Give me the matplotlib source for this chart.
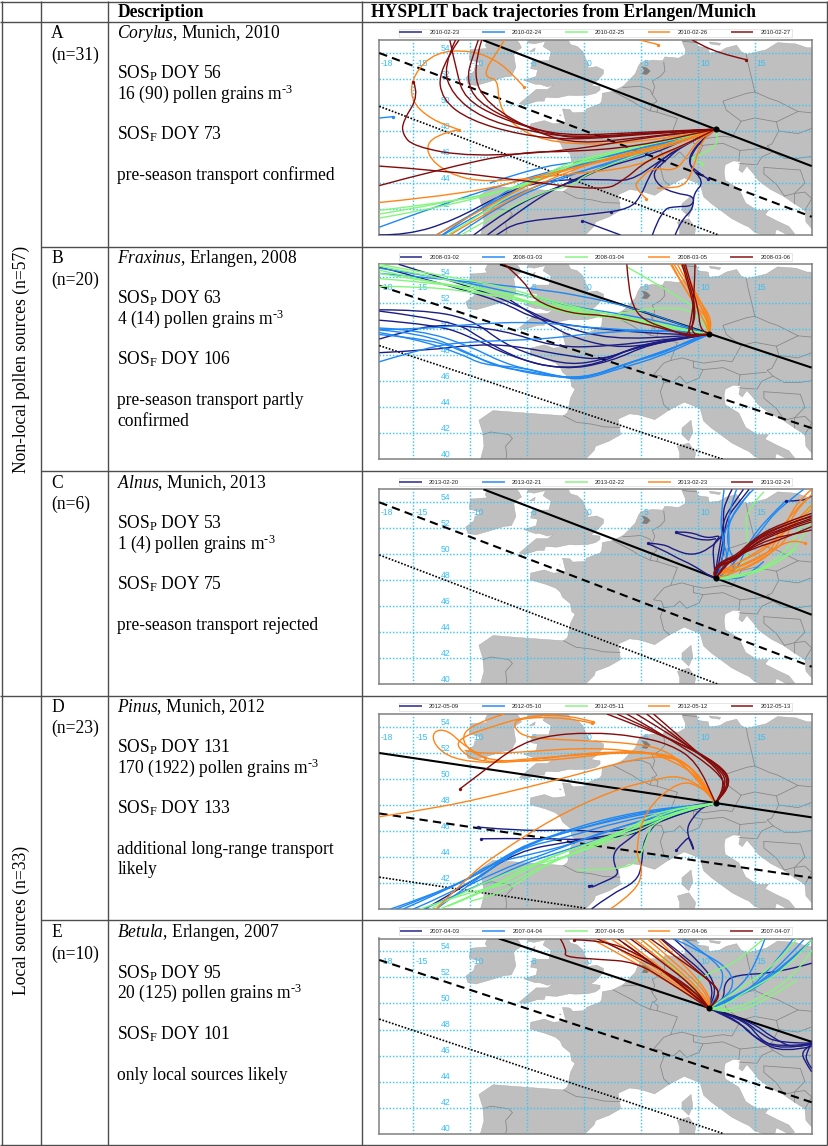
import matplotlib
matplotlib.use("Agg")
import matplotlib.pyplot as plt
from matplotlib.path import Path
from matplotlib.patches import PathPatch, Polygon
from matplotlib.lines import Line2D

plt.rcParams['font.family'] = ['Liberation Serif', 'DejaVu Serif']
plt.rcParams['mathtext.fontset'] = 'custom'
plt.rcParams['mathtext.rm'] = 'Liberation Serif'
plt.rcParams['mathtext.it'] = 'Liberation Serif:italic'
plt.rcParams['mathtext.bf'] = 'Liberation Serif:bold'

# ---------- land (lon, lat) ----------
CONTINENT = [(8.2,56),(8.2,55.5),(8.6,55.0),(8.6,54.9),(8.9,54.3),(8.9,53.9),(8.3,53.6),(7.1,53.7),(6.9,53.4),(6.0,53.45),
 (5.0,53.3),(4.75,52.95),(4.5,52.4),(4.0,51.95),(3.5,51.5),(3.2,51.35),(2.5,51.05),(1.6,50.9),(1.55,50.3),(1.4,50.1),
 (0.2,49.7),(0.1,49.45),(-1.0,49.4),(-1.25,49.65),(-1.9,49.7),(-1.6,48.65),(-2.7,48.55),(-3.5,48.8),(-4.7,48.55),
 (-4.75,48.05),(-4.4,47.95),(-3.4,47.7),(-2.5,47.4),(-2.1,47.1),(-1.9,46.7),(-1.2,46.2),(-1.1,45.6),(-0.8,45.4),(-1.2,44.7),
 (-1.45,43.6),(-1.8,43.35),(-3.5,43.45),(-5.8,43.6),(-8.0,43.75),(-9.25,43.0),(-8.9,42.0),(-8.8,41.0),(-9.5,38.7),
 (-0.3,39.5),(0.0,39.9),(0.9,40.7),(1.0,41.0),(2.2,41.4),(3.2,41.9),(3.1,42.5),(3.0,43.1),(4.0,43.5),(4.9,43.4),
 (6.2,43.05),(7.4,43.75),(8.8,44.4),(10.2,43.9),(10.5,42.95),(11.2,42.4),(12.3,41.7),(13.0,41.25),(14.0,40.8),(14.5,40.6),
 (15.0,40.2),(15.7,40.0),(15.8,39.5),(16.6,39.5),(16.9,40.45),(18.0,39.95),(18.5,40.1),(18.0,40.65),(16.9,41.1),(15.9,41.55),
 (16.2,41.9),(15.2,41.9),(14.2,42.45),(13.6,43.55),(12.4,44.2),(12.3,44.9),(12.4,45.4),(13.1,45.7),(13.75,45.65),(13.6,45.0),
 (13.9,44.8),(14.3,45.3),(14.9,44.7),(15.3,44.2),(16.4,43.5),(17.5,43.0),(18.5,42.4),(19.4,41.9),(19.5,41.0),(20.5,40),(21,40),
 (21,54.4),(19.6,54.4),(18.6,54.7),(17,54.8),(16,54.25),(14.3,53.9),(13.8,54.1),(13.4,54.6),(12.5,54.4),(11.9,54.1),(11,54),
 (10.9,54.4),(10,54.5),(9.9,54.85),(9.6,55.5),(10,56)]
BRITAIN = [(-3.4,54.9),(-3.6,54.5),(-2.9,54.1),(-3.1,53.4),(-4.3,53.4),(-4.6,53.3),(-4.7,52.8),(-4.1,52.7),(-4.2,52.2),(-5.3,51.9),
 (-4.3,51.6),(-3.9,51.6),(-3.2,51.4),(-2.7,51.55),(-3.2,51.2),(-4.2,51.2),(-5.7,50.1),(-5.2,50.0),(-4.1,50.3),(-3.5,50.3),
 (-3.4,50.6),(-2.4,50.55),(-1.3,50.75),(-0.8,50.72),(0.3,50.75),(1.0,50.9),(1.4,51.15),(1.4,51.4),(0.6,51.5),(1.0,51.75),
 (1.7,52.4),(1.7,52.7),(1.1,52.95),(0.3,52.85),(0.4,53.1),(0.35,53.2),(0.1,53.6),(-0.1,54.1),(-0.6,54.5),(-1.2,54.65),
 (-1.4,55.0),(-1.6,55.6),(-2,56.2),(-5.5,56.2),(-5.5,55.4),(-4.8,55.5),(-4.9,55.0),(-5.0,54.8),(-4.4,54.7)]
IRELAND = [(-6.2,55.6),(-7.3,55.4),(-8.4,55.1),(-8.7,54.6),(-8.5,54.35),(-10.0,54.25),(-10.1,53.5),(-9.0,53.2),(-9.6,52.9),(-9.7,52.55),
 (-10.4,52.1),(-10.2,51.6),(-9.5,51.5),(-8.3,51.8),(-7.0,52.15),(-6.4,52.2),(-6.0,52.9),(-6.1,53.4),(-6.2,54.0),(-5.5,54.4),
 (-5.7,54.75),(-6.1,55.2)]
CORSICA = [(9.4,43.0),(9.55,42.1),(9.2,41.4),(8.6,41.9),(8.6,42.4)]
SARDINIA = [(8.2,41.0),(9.2,41.25),(9.8,40.5),(9.6,39.5),(8.4,39.5),(8.4,40.5)]
MAN = [(-4.8,54.1),(-4.3,54.4),(-4.35,54.15)]
FUNEN = [(10,55.5),(10.8,55.3),(10.7,55.05),(10,55.1)]
ZEALAND = [(11.2,55.8),(12.5,55.8),(12.3,55.2),(12.1,55.0),(11.3,55.1)]
LOLLAND = [(11,54.85),(12,54.75),(11.9,54.6),(11.1,54.7)]
SKANE = [(12.7,56.2),(12.9,55.4),(14.2,55.4),(14.4,56.2)]
JERSEY = [(-2.25,49.2),(-2.0,49.2),(-2.0,49.15)]
LAND = [CONTINENT, BRITAIN, IRELAND, CORSICA, SARDINIA, MAN, FUNEN, ZEALAND, LOLLAND, SKANE, JERSEY]
IJSSELMEER = [(5.1,52.95),(5.5,52.85),(5.8,52.6),(5.5,52.35),(5.1,52.4),(5.3,52.65)]

BORDERS = [
 [(-1.8,43.35),(-0.7,42.85),(0.7,42.7),(1.7,42.5),(3.15,42.45)],
 [(-8.9,41.9),(-8.2,42.1),(-6.6,41.9),(-6.3,41.6),(-6.9,41.0),(-6.8,40.3),(-7.0,39.7)],
 [(2.55,51.05),(3.2,50.75),(4.2,50.3),(4.8,49.95),(5.8,49.55),(6.4,49.45),(8.2,48.97),(7.6,47.6),(7.0,47.4),(6.1,46.5),(6.8,46.4),(7.0,45.9),(6.7,45.2),(7.0,44.2),(7.5,43.8)],
 [(3.4,51.35),(4.3,51.4),(5.0,51.45),(5.8,51.15),(6.0,50.8)],
 [(7.0,53.3),(7.1,52.6),(6.7,52.2),(6.0,51.85),(6.2,51.4),(6.0,50.8),(6.4,50.3),(6.1,50.1),(6.5,49.8),(6.4,49.45)],
 [(6.0,50.15),(5.8,49.55)],
 [(8.7,54.9),(9.9,54.8)],
 [(14.25,53.9),(14.4,53.2),(14.6,52.5),(15.0,51.0),(14.3,50.9),(12.2,50.3),(12.5,49.6),(13.8,48.75),(13.0,47.5),(12.2,47.6),(10.5,47.4),(9.6,47.55),(8.6,47.8),(7.6,47.6)],
 [(9.6,47.55),(9.6,47.05),(10.45,46.9),(10.1,46.25),(9.0,45.85),(8.4,46.4),(7.9,46.0),(7.0,45.9)],
 [(10.45,46.9),(12.2,47.05),(13.7,46.5),(16.0,46.7)],
 [(13.7,46.5),(13.6,45.7)],
 [(13.8,48.75),(15.0,49.0),(16.9,48.7),(17.1,48.0),(16.5,47.0),(16.1,46.85)],
 [(15.0,51.0),(16.3,50.5),(17.0,50.3),(18.8,49.5),(20,49.4),(21,49.4)],
 [(16.9,48.7),(18.8,49.5)],
 [(17.1,48.0),(18.8,47.8),(20,48.2),(21,48.5)],
 [(16.1,46.85),(16.6,46.4),(17.6,45.9),(18.8,45.9),(20.5,46.1)],
 [(13.6,45.5),(15.2,45.4),(15.6,46.0),(16.6,46.4)],
 [(15.8,45.2),(19,45),(19.4,44),(18.5,43.2),(17.6,43.0)],
 [(15.8,45.2),(15.8,44.7),(16.9,43.9),(17.6,43.0)],
 [(18.5,42.4),(18.5,43.2),(19.4,43.3),(20,42.8),(19.4,41.9)],
 [(20,42.8),(20.5,41.5),(21,40.5)],
]

# ---------- reference lines, (lon, lat) end points: solid, dashed, dotted ----------
A_ref = [[(-8.9,55),(20,45.3)], [(-18,54),(20,41.4)], [(-18,49.9),(11.8,40)]]
B_ref = [[(-7.4,55),(20,47.05)], [(-18,53.35),(20,42.4)], [(-18,48.75),(12.2,40)]]
C_ref = [[(-8.85,55),(20,45.35)], [(-18,54),(20,41.35)], [(-18,49.95),(11.8,40)]]
D_ref = [[(-18,52),(20,47.05)], [(-18,47.35),(20,42.4)], [(-18,42.45),(0.2,40.05)]]
E_ref = [[(-7.5,55),(20,47.05)], [(-18,53.35),(20,42.4)], [(-18,48.8),(12.2,40)]]

MUNICH = (11.55, 48.14)
ERLANGEN = (11.0, 49.62)

# ---------- Trajectories (lon, lat); they run on to the site ----------
A_navy = [
 [(-18,40),(-15.5,40),(-11.5,41.1),(-7.1,43.2),(-3.6,44.2),(1.7,44.3),(4,44.1),(6.5,45.6),(8,46.5)],
 [(2.4,41.8),(4,42),(5,43),(5.7,44.5),(6.5,45.6),(8.5,46.8)],
 [(6,40),(6.8,42),(8.2,42.2),(9.5,42.2),(9.7,43),(8,43.2),(6.5,43.8),(6,44.8),(7,45.6),(8.5,46.8)],
 [(10.9,44.3),(9.5,45.1),(9.2,45.7),(10,47)],
 [(8,40),(8.5,41.1),(9.6,42),(9.6,43.2),(10.6,44.1),(9,45.5),(9.8,46.9)],
 [(-9.7,40),(-6.5,42.1),(-2.4,43.7),(-0.6,44.2),(1.7,45.2),(6,46.2),(9,47.4)],
 [(-8.5,40),(-5.9,41.7),(-2.8,43.5),(0,44.6),(3,45.7),(7,46.8)],
]
A_blue = [
 [(-18,40.6),(-11.5,42.7),(-4.2,44.6),(1.7,46),(7.6,47.3)],
 [(-13,40),(-8.9,42.15),(-4.75,44),(-1.2,45.2),(4,46.25),(9,47.5)],
 [(-12.4,40),(-8,42.3),(-3.6,44),(0,45),(4.6,46),(9.3,47.6)],
 [(-8.3,44),(-4.2,45.2),(-0.6,45.6),(4.6,46.6),(9,47.5)],
 [(-11.2,40),(-7.1,42.5),(-2.4,44.2),(1.7,45.5),(6.1,46.5)],
 [(-12.5,40),(-8.5,42.4),(-5.5,44.1),(-1.5,45.1),(3,46.3),(8.5,47.4)],
]
A_green = [
 [(-18,41.3),(-11.5,42.3),(-4.75,44),(-1.2,45.5),(4.6,46.25),(9,47.5)],
 [(-18,41.9),(-10,42.7),(-4.2,44.2),(-1.5,45.6),(4.6,46.8),(9,47.6)],
 [(-10.8,40),(-8.7,41.1),(-3.6,43.4),(-1.2,43.7),(0.2,44.7),(4,46),(8.5,47.3)],
 [(10.4,45.5),(9,45.9),(10.5,46.25),(11.8,47)],
 [(-18,41.6),(-9.4,42.9),(-3.6,44.2),(0.2,46),(6.1,47)],
 [(-12,40),(-8.3,42),(-4.5,44.3),(0,45.7),(4,46.6),(8.5,47.6)],
]
A_orange = [
 [(-7,55),(-8,53.6),(-8.6,52.8),(-8.6,52.1),(-7.6,52),(-7.5,50.1),(-6.5,48.6),(-3.6,47.2),(1.7,46.9),(7.6,47.5)],
 [(-11,48.1),(-13.3,47.7),(-14,46.3),(-12,44.7),(-8.6,44),(-1.2,44.7),(4.6,45.2),(9,47)],
 [(5.45,42.8),(4.3,43.7),(5,44.4),(6,45.2),(8,44.9),(9,46),(10,47.3)],
 [(-18,42.5),(-10,43.2),(-4.2,44.5),(1.7,45.7),(7.6,46.8)],
 [(-13,40),(-8.6,42.15),(-4.2,44.2),(0.2,45.5),(6.1,46.6)],
 [(-11.8,40),(-7.7,42.15),(-2.7,44.5),(3.2,46.25),(8.2,47.15)],
 [(6.4,43.6),(7.3,43.6),(9,43.8),(9.8,45.7),(10.3,47.2)],
]
A_red = [
 [(-11,55),(-12.8,52.7),(-12.5,50.4),(-10,48.8),(-5.6,47.7),(-1.2,47.3),(4.6,47.7)],
 [(-11.3,55),(-12.4,53),(-11.6,50.8),(-9,49),(-5,48),(-1,47.5),(5,47.8)],
 [(-11.8,55),(-11.2,52.5),(-10.5,50.5),(-7.5,49),(-3,47.8),(-0.5,47.4),(5,47.8)],
 [(-9.3,55),(-9.9,53.5),(-10.3,52),(-9.5,50.3),(-6,48.6),(-2,47.6),(5,47.9)],
 [(-15,51.8),(-14.5,50.75),(-15.9,48.8),(-16,47.8),(-15,46.8),(-10,46),(-1.2,46.5),(4.6,47.4)],
 [(-18,45.3),(-13,45),(-5.6,44.2),(1.7,43.4),(3.5,44.2),(5.5,45.75),(9,47)],
 [(-18,43.8),(-13,45),(-5.6,46.4),(-1.2,46.4),(4.6,46.8)],
 [(-9,55),(-9.9,52.5),(-8.5,50),(-4,47.8),(-0.5,47),(5,47.5)],
]
A_open = [
 ('navy', [(2.4,41.8),(-1.2,41.4),(-5.9,41),(-7.7,40)]),
 ('navy', [(-0.2,41.1),(3.2,40)]),
 ('blue', [(-16.8,49.1),(-18,49)]),
 ('orange', [(-5.3,51.4),(-6.2,52.3),(-7.8,53.5),(-10,54.2),(-13,54.1),(-15,52.4),(-15.3,50.4),(-13.5,48.9),(-11,48.1)]),
 ('orange', [(6.5,54.65),(4.9,55)]),
 ('red', [(14.2,53.5),(11.7,54),(9.5,55)]),
]
A_marks = [('navy',2.4,41.8),('navy',-0.2,41.1),('navy',10.9,44.3),('blue',-16.8,49.1),('green',10.4,45.5),('orange',-5.3,51.4),
 ('orange',6.5,54.65),('orange',5.45,42.8),('orange',-11,48.1),('red',14.2,53.5),('red',-15,51.8)]

B_navy = [
 [(-18,51.5),(-14.4,51.5),(-10,50.85),(-7.1,48.9),(-4.2,47.9),(-1.2,47.25),(1.7,47.65),(4.6,48.65),(9,49.4)],
 [(-18,51.4),(-11.5,50.7),(-8.9,49.2),(-5.6,47.65),(-2.4,47),(1.1,47.25),(4.6,48.75),(9,49.4)],
 [(-18,50.7),(-13,50.35),(-10,49.45),(-6.5,47.9),(-1.8,46.85),(2.3,47.5),(5.8,48.9)],
 [(-18,49.25),(-15.3,49.95),(-12.4,50.4),(-7.1,49.95),(-2.7,48.65),(1.7,48.65),(9,49.4)],
 [(-18,48.2),(-13.5,48.4),(-10,48.8),(-6.5,48.8),(-1.2,47.9),(1.7,47.65),(4.6,48.65)],
 [(-18,54.8),(-13,53.65),(-7.1,52.1),(-4.2,50.7),(1.7,49.95),(9,49.55)],
 [(-16.3,55),(-10,53.3),(-5.6,51.75),(-2.4,50.35),(2.3,49.2),(9,49.5)],
 [(-6.5,52.25),(-3.6,50.6),(-0.6,49.2),(3.5,48.5),(7.6,49.2)],
]
B_blue = [
 [(-18,54.3),(-11.5,53.8),(-4.75,53.15),(-0.6,52.65),(4.6,51.6),(9,50.2)],
 [(-18,54.7),(-13,54.05),(-7.1,53),(-1.2,51.75),(4.6,51),(9,50.1)],
 [(-18,49.95),(-14.4,49.7),(-10.6,48.4),(-7.7,47.1),(-4.75,46.75),(-1.9,46.25),(0.2,46.25),(3.2,47.25),(7,48.15),(9.3,49.2)],
 [(-18,50.1),(-14.4,49.95),(-10,48.7),(-7.1,47.4),(-4.2,46.75),(-1.6,46.25),(1.1,46.5),(4,47.4),(7.6,48.5)],
 [(-18,49.75),(-15,49.3),(-10.9,48.15),(-8.9,47.25),(-5.6,47.1),(-2.1,46.35),(-0.1,46.1),(3.2,47),(6.7,47.9)],
 [(-18,47.5),(-13.5,48.7),(-10,49.05),(-4.75,49.2),(-1.9,49.4),(1.7,49.8),(7.6,49.95)],
 [(-18,50),(-14.4,50),(-10,50.4),(-4.2,50.6),(1.7,50),(9,49.8)],
 [(-18,49.6),(-13,49.2),(-10,48),(-6.5,46.9),(-2.5,46.3),(0.5,46.3),(3.5,47.3),(7.3,48.4)],
]
B_green = [
 [(-18,55),(-13,54.2),(-7.1,53.3),(-1.2,51.75),(4.6,50.7),(9,49.95)],
 [(-18,54.55),(-10,53),(-4.2,51.9),(1.7,51.1),(7.6,50.1)],
 [(-18,54.3),(-10,53.15),(-4.2,52.5),(0.2,51.2),(7.6,50.1)],
 [(-18,53.3),(-14.4,53.3),(-10,52.9),(-4.2,52),(1.7,51.35),(9,49.95)],
 [(-18,54.85),(-11.5,53.8),(-4.8,52.1),(-0.6,51),(4.6,50.85),(9,49.95)],
 [(3.75,54.8),(7.6,52.9),(10.5,51.2)],
 [(3,51.2),(4.9,51.5),(7.6,51.7),(9.6,51.4),(10.8,50)],
 [(-18,53.9),(-9,53.3),(-3,51.6),(3,50.9),(8,50.1)],
]
B_orange = [
 [(7.6,55),(8.6,53.5),(9.8,51.8),(10.9,50.8)],
 [(7.9,55),(8.9,53.5),(10.2,51.8),(11.1,50.6)],
 [(8.2,55),(9.1,53.5),(10.5,51.8),(11.2,50.7)],
 [(8.5,55),(9.3,53.7),(9.8,52.5),(10.7,51)],
 [(8.7,55),(9.4,53.5),(10.3,52),(11,50.8)],
 [(7.7,55),(8.3,54),(9.4,52.4),(10.5,50.8)],
]
B_red = [
 [(8.75,55),(9.3,53.3),(9.8,51.75),(9.6,50.2),(8.7,49.4)],
 [(8.9,55),(9.45,53.3),(10.05,51.5),(10.2,50)],
 [(9.75,55),(9.7,53.3),(9.5,51),(9,49.4)],
 [(3.75,55),(3.9,53.3),(4.3,51.75),(5.2,50.7),(7.6,49.95),(9.3,49.4)],
 [(-7,55),(-5,53.5),(-4.5,52.25),(-1.2,51.2),(1.7,51.1),(4.6,50.6),(9,49.55)],
 [(8.6,55),(9.2,53.3),(9.75,51.3),(9.3,49.6)],
]
B_open = []
B_marks = []

C_navy = [
 [(8.1,51.7),(9.3,51.75),(10.8,51.2),(12.1,51.5),(11.3,50.8),(11.4,49.3)],
 [(5.65,50.8),(7,50.3),(8.2,49.7),(9.5,49.2),(10.9,48.4)],
 [(14,55),(13.2,54),(12.3,52.8),(12.1,51.5),(11.8,50),(11.6,49)],
 [(14.5,55),(13.6,54),(12.6,52.9),(12.3,51.5),(12,50)],
 [(13,55),(12.4,54),(12.2,53),(12.3,51.5),(12.3,50)],
]
C_blue = [
 [(12.3,55),(12,53),(12.1,51.2),(12.7,49.7),(12.2,48.4)],
 [(13.4,55),(12.55,53),(12.85,50.45),(12,48.6)],
 [(14.9,55),(13.1,53.5),(12.4,51),(13.4,49.2),(12.5,48.2)],
 [(19.3,55),(17,53.5),(15.5,51.75),(14,50.2),(12.2,48.4)],
 [(17.7,54.1),(15.8,52.5),(14.3,50.7),(13.4,48.65)],
 [(14.6,54.8),(12.25,52.25),(12.25,49.95),(11.8,48.4)],
 [(15.8,49.45),(14.3,48.3),(13.1,48.1)],
]
C_green = [
 [(19.9,53.8),(18.7,51.2),(16.4,49.2),(14,48.4),(12,48.2)],
 [(20,52.8),(19,50.6),(15.8,48.8),(12.2,48.2)],
 [(15.8,54.8),(14.3,53.5),(14.2,51.7),(14.6,50.2),(13.4,48.65)],
 [(18.7,50.45),(16.4,48.9),(12.9,48.1)],
]
C_orange = [
 [(20,55),(18.4,53.8),(17.5,51.5),(16.4,49.95),(14,48.8),(11.8,48.5)],
 [(20,54.6),(18.1,53),(18,51.2),(15.8,49.7),(13.4,48.65)],
 [(19.4,50.85),(18.4,51.2),(16.4,50.3),(14,49.2),(11.8,48.5)],
 [(20,53.5),(17.8,51.75),(14.9,50),(12.8,49),(11.7,48.3)],
 [(20,53.8),(16.5,50.6),(14,49.55),(11.8,48.6)],
 [(19.6,54.3),(17.2,52.25),(16.6,50.2),(13.4,48.9),(11.8,48.5)],
]
C_red = [
 [(20,53.15),(16.95,52.25),(14.9,51.2),(13.43,49.95),(12.25,49.55),(11.38,48.9)],
 [(20,52.97),(16.95,52.05),(14.9,50.97),(13.43,49.75),(12.1,49.44),(11.38,48.8)],
 [(20,52.77),(16.95,51.87),(14.6,50.85),(13.43,49.56),(11.96,49.3),(11.38,48.67)],
 [(20,52.5),(17.25,51.75),(14.6,50.6),(13.14,49.44),(11.96,49.18),(11.38,48.54)],
 [(20,52.13),(17.54,51.2),(14.9,50.46),(13.7,49.95),(12.4,49.3)],
 [(20,51.87),(18.7,51.6),(16.4,51.2),(14.3,50.3),(12.8,49.5)],
 [(20,52.9),(17,52.15),(14.8,51.05),(13.5,49.85),(12.2,49.5),(11.4,48.85)],
 [(20,52.65),(17,51.8),(14.7,50.7),(13.3,49.5),(12,49.25),(11.35,48.6)],
]
C_open = [
 ('navy', [(8.1,51.65),(9.3,51.3),(10.7,51.05),(11.6,51.2)]),
 ('navy', [(5.65,50.85),(7,50.8),(8,50.3),(9.5,49.9),(11,50.4),(12.1,51.4)]),
 ('navy', [(17.7,54.1),(19.3,54.1),(20,54.5)]),
]
C_marks = [('navy',8.1,51.7),('navy',5.65,50.85),('navy',17.7,54.1),('orange',19.4,50.85)]

D_navy = [
 [(-9.3,46.3),(-5.6,46),(-0.65,46.1),(1.7,45.85),(6.1,46.5),(9,47.65)],
 [(-9.1,45.4),(-4.2,45.45),(0.2,45.3),(4.6,45.7),(6.4,46.85),(9.3,48)],
 [(8.1,44.5),(8.9,45.35),(9.3,45.5),(9.75,44.3),(9.3,45.2),(9,46.2),(9.6,47.1),(10.5,47.9)],
 [(0.4,41.75),(0.9,41.9),(0.5,41.6),(1.5,42),(3.15,42.65),(2.6,43.4),(2.6,44.5),(4,45.4),(5.5,46.5)],
 [(0.65,40),(2.3,41.1),(4.6,42.1),(5.1,43.4),(5.2,45.45),(7,47.25)],
 [(-14,40),(-10,42),(-5.9,44.45),(-1.2,45.2),(4.6,46),(9,47.5)],
]
D_blue = [
 [(-16.5,40),(-10.6,42),(-7.1,43.9),(-4.2,45.2),(-1.2,46),(4.6,47.4),(10.5,48)],
 [(-15.9,40),(-10,42.25),(-6.5,44.4),(-1.2,46.2),(4.6,47.5),(10.5,48.05)],
 [(-15,40),(-9.4,42.1),(-6.2,44.7),(-0.6,46.2),(7,47.65)],
 [(-14.1,40),(-9.15,41.85),(-5.6,43.4),(-2.1,44.4),(1.7,45.45),(6.1,46.75),(10.5,47.95)],
 [(-17,40),(-10.9,41.85),(-8.6,43.4),(-4.75,44.2),(-1.2,44.95),(5.5,47),(10.5,47.9)],
 [(-10.3,41.75),(-7.1,43.15),(-2.7,44.45),(1.7,46),(9,47.65)],
 [(-13,40),(-8.85,42.65),(-5.6,44.7),(-1.8,45.45),(3.2,46.75),(9,47.75)],
]
D_green = [
 [(-14.4,40),(-10,41.35),(-6.5,41.9),(-3.6,43.4),(-0.6,44.4),(4,46.2),(6.4,47.5)],
 [(-12.7,40),(-8.85,41.35),(-4.2,43.65),(0.2,44.95),(4.6,46.2),(7.6,47.65)],
 [(-13.5,40),(-7.1,42.9),(-1.8,43.9),(2.3,45.45),(5.2,46.5),(9,47.75)],
 [(-0.65,43),(3.45,43),(4.9,43.9),(5.5,45.45),(6.1,46.75),(10.5,48)],
 [(-10,40.6),(-7.1,41.2),(-3.9,43.15),(-1.2,44.2),(4,45.7),(7.6,47.25)],
 [(-12,40.2),(-8,41.6),(-3,44),(1,45.2),(5,46.6),(9,47.6)],
]
D_orange = [
 [(-18,47.1),(-13,47.75),(-7.1,48.9),(-1.2,50.2),(4.6,51.6),(7.6,51.75),(9.6,50.85),(11.2,48.5)],
 [(-13,40),(-10,42.65),(-7.7,44.2),(-2.7,47),(2.3,49.05),(6.1,49.95),(8.4,50.3),(10.5,49.3)],
 [(2.3,40),(4.6,41.35),(5.2,43.15),(4.5,44.2),(5.2,47.5),(8.4,49.95),(10.5,49.3)],
 [(-8.7,51.6),(-10.5,52.5),(-12,53.8),(-13.3,53.7),(-13.2,52.6),(-11.5,51.5),(-8,51.2),(-4,51.5),(0,52),(4,52.1),(7.5,51.9),(9.5,50.9)],
 [(0.8,54.4),(-1.2,54.9),(-4.75,54.9),(-8.6,53.9),(-10.9,53.15),(-11.2,52.4),(-9.2,51.2),(-4.2,51.6),(1.7,52),(7,52),(9,51)],
 [(0.65,54.3),(-1.5,54.75),(-5.9,54.7),(-6.2,53.9),(-5,53.15),(-1.2,53),(4.6,52.75),(7.6,52.1),(9.9,50)],
 [(-10.5,52.2),(-9,51.9),(-5,52.1),(0,52.4),(4,52.2),(8,51.7),(10,50.5)],
 [(-7,55),(-10,54.2),(-10.9,52.9),(-9,51.5),(-5,51.3),(0,51.7),(5,52.3),(8,51.3),(10,50.2)],
]
D_red = [
 [(2,55),(7.6,53.15),(12,51.1),(13,49.7)],
 [(2.9,55),(8.15,52.9),(12.25,50.85),(12.85,49.55)],
 [(4.6,55),(9,52.65),(12.25,50.7),(12.7,49.55)],
 [(5.5,55),(9.3,52.4),(12,50.7),(12.55,49.7)],
 [(3.75,55),(8.4,52.65),(11.7,50.6),(12.55,49.3)],
 [(6.1,55),(9.9,52.1),(12.1,50.45),(12.25,49.3)],
 [(-10.9,49.25),(-8.85,50.6),(-6.2,52.4),(-3.6,53.3),(0.5,53.6),(4.6,53.3),(7.6,52.65),(9.9,51.35)],
]
D_open = []
D_marks = [('navy',-9.3,46.3),('navy',-9.1,45.4),('navy',8.1,44.5),('navy',0.4,41.75),('orange',-8.7,51.6),('orange',0.8,54.4),
 ('orange',0.65,54.3),('red',-10.9,49.25)]

E_navy = [
 [(20,53.1),(17,52.35),(13.2,52.2),(12.3,51.55),(12.3,50.3)],
 [(6.8,55),(9.3,53.35),(11.4,51.55)],
 [(7.85,55),(10.2,53.2),(11.7,51.3)],
 [(20,46.95),(17,46.95),(15.5,47.7),(14,48.75)],
 [(20,46.85),(17.25,46.45),(15.5,47.2),(14.3,48.6)],
 [(20,46.7),(17.5,46.2),(15.2,47.2),(14,48.35)],
 [(20,47.05),(18.7,46.4),(16.4,47.45),(14.9,48.5)],
 [(20,46.9),(17,46.6),(14.9,47.4),(13.4,48.75)],
]
E_blue = [
 [(15.9,55),(14.9,52.6),(13.4,51.05)],
 [(19.3,54.9),(16.4,52.1),(13.4,50.65)],
 [(20,54.9),(17.2,52.6),(14,50.8)],
 [(7.85,55),(10.5,53.9),(12.85,52.6),(13.2,51.05)],
 [(8.7,55),(12,53.1),(12.3,51.55)],
 [(19.8,54.6),(17.8,53.1),(15.8,51.55),(13,50.3)],
 [(18.4,55),(15.5,51.55),(12,49.9)],
]
E_green = [
 [(4.9,55),(7.6,53.1),(9.9,50.8)],
 [(20,54.9),(17.8,52.6),(13.9,50.8),(12.25,49.75)],
 [(18.7,55),(17,53.1),(13.5,51.05)],
 [(15.8,55),(13.4,53.1),(11.1,52.45),(9.3,51.3)],
 [(20,54.1),(18.7,52.3),(15.8,50.55),(13,49.5)],
 [(18.7,51.8),(15.8,50.15),(13,49.25)],
]
E_orange = [
 [(0.8,54.9),(4.6,53.1),(9,50.8)],
 [(2.3,55),(6.1,52.85),(9.9,50.55)],
 [(4.35,55),(7.6,52.85),(10.5,50.55)],
 [(5.5,55),(8.45,52.85),(10.8,50.8)],
 [(6.4,55),(9.3,52.6),(11.1,50.55)],
 [(3.45,55),(7,52.6),(10.2,50.3)],
 [(1.5,55),(5.4,52.95),(9.5,50.7)],
 [(4.9,55),(8,52.85),(10.6,50.65)],
]
E_red = [
 [(-2.1,55),(-1.5,54.1),(-1.8,53.6),(1.1,53.4),(4.6,53.2),(7.6,51.55)],
 [(-0.9,54.9),(1.7,54.85),(4.6,53.9),(7.6,52.1),(10.5,50.05)],
 [(2.9,55),(6.1,53.1),(9,51.05)],
 [(4.05,55),(7,53.1),(9.6,51.3)],
 [(5.8,55),(8.45,53.35),(11.4,51.55),(12,50.55)],
 [(6.7,55),(10.5,52.1),(12.1,50.9)],
 [(1.1,55),(5.2,53.35),(9,51.55)],
 [(3.45,54.65),(6.7,52.6),(9.9,50.8)],
]
E_open = [
 ('navy', [(20,44.75),(19.3,45.65),(19.15,46.3),(20,46.85)]),
 ('navy', [(20,45),(19.45,45.65),(19.6,46.3),(20,46.95)]),
]
E_marks = [('red',-0.9,54.9)]

COLORS = {'navy':'#1c1c86','blue':'#1e88f5','green':'#84f57c','orange':'#ff8418','red':'#850a0a'}
ORDER = ['navy','blue','green','orange','red']

A_dates = ['2010-02-23','2010-02-24','2010-02-25','2010-02-26','2010-02-27']
B_dates = ['2008-03-02','2008-03-03','2008-03-04','2008-03-05','2008-03-06']
C_dates = ['2013-02-20','2013-02-21','2013-02-22','2013-02-23','2013-02-24']
D_dates = ['2012-05-09','2012-05-10','2012-05-11','2012-05-12','2012-05-13']
E_dates = ['2007-04-03','2007-04-04','2007-04-05','2007-04-06','2007-04-07']

LON_TICKS = [-15,-10,-5,0,5,10,15]
LON_LABELS = ['-18','-15','-10','-5','0','5','10','15']
LON_LABEL_POS = [-17.3,-14.3,-9.3,-4.45,0.4,5.4,10.65,15.6]
LAT_TICKS = [54,52,50,48,46,44,42]

# ---------- table text ----------
ROW_LABELS = [['A','(n=31)'],['B','(n=20)'],['C','(n=6)'],['D','(n=23)'],['E','(n=10)']]
DESC_A = ['$\\mathit{Corylus}$, Munich, 2010','','SOS$_{\\mathrm{P}}$ DOY 56','16 (90) pollen grains m$^{\\text{-}3}$','','SOS$_{\\mathrm{F}}$ DOY 73','','pre-season transport confirmed']
DESC_B = ['$\\mathit{Fraxinus}$, Erlangen, 2008','','SOS$_{\\mathrm{P}}$ DOY 63','4 (14) pollen grains m$^{\\text{-}3}$','','SOS$_{\\mathrm{F}}$ DOY 106','','pre-season transport partly','confirmed']
DESC_C = ['$\\mathit{Alnus}$, Munich, 2013','','SOS$_{\\mathrm{P}}$ DOY 53','1 (4) pollen grains m$^{\\text{-}3}$','','SOS$_{\\mathrm{F}}$ DOY 75','','pre-season transport rejected']
DESC_D = ['$\\mathit{Pinus}$, Munich, 2012','','SOS$_{\\mathrm{P}}$ DOY 131','170 (1922) pollen grains m$^{\\text{-}3}$','','SOS$_{\\mathrm{F}}$ DOY 133','','additional long-range transport','likely']
DESC_E = ['$\\mathit{Betula}$, Erlangen, 2007','','SOS$_{\\mathrm{P}}$ DOY 95','20 (125) pollen grains m$^{\\text{-}3}$','','SOS$_{\\mathrm{F}}$ DOY 101','','only local sources likely']

W, H = 829, 1146
FS = 12.65
fig = plt.figure(figsize=(W/100, H/100), dpi=100, facecolor='white')
bg = fig.add_axes([0, 0, 1, 1])
bg.set_xlim(0, W); bg.set_ylim(H, 0); bg.axis('off')

LC = '#4d4d4d'
LW = 1.0
for y, x0 in [(1.5,0),(22,0),(246.7,41),(471,41),(695.7,0),(920,41),(1144.5,0)]:
    bg.plot([x0, 827], [y, y], color=LC, lw=LW, solid_capstyle='butt')
for x in [1.7, 41, 108, 362, 826.7]:
    bg.plot([x, x], [1, 1145], color=LC, lw=LW, solid_capstyle='butt')

bg.text(118, 17.3, 'Description', fontsize=FS, fontweight='bold', va='baseline')
bg.text(371.5, 17.3, 'HYSPLIT back trajectories from Erlangen/Munich', fontsize=FS, fontweight='bold', va='baseline')
bg.text(21.5, 473, 'Non-local pollen sources (n=57)', fontsize=FS, rotation=90, ha='center', va='bottom')
bg.text(21.5, 995, 'Local sources (n=33)', fontsize=FS, rotation=90, ha='center', va='bottom')

rows = [(38, DESC_A),(263, DESC_B),(487.7, DESC_C),(711.7, DESC_D),(937.3, DESC_E)]
STEP = 20.35
for (y0, desc), lab in zip(rows, ROW_LABELS):
    for i, t in enumerate(lab):
        bg.text(51, y0 + i*21.5, t, fontsize=FS, va='baseline')
    for i, t in enumerate(desc):
        if t:
            bg.text(117.5, y0 + i*STEP, t, fontsize=FS, va='baseline')

def curve(points):
    verts = [points[0]]
    codes = [Path.MOVETO]
    for a, b in zip(points[1:-1], points[2:]):
        verts += [a, ((a[0]+b[0])/2, (a[1]+b[1])/2)]
        codes += [Path.CURVE3, Path.CURVE3]
    verts.append(points[-1])
    codes.append(Path.LINETO)
    return Path(verts, codes)

def panel(top, bottom, site, dates, refs, trajs, opened, marks, show40):
    ax = fig.add_axes([379.3/W, 1-bottom/H, 432.4/W, (bottom-top)/H])
    ax.set_xlim(-18, 20); ax.set_ylim(40, 55)
    ax.set_xticks([]); ax.set_yticks([])
    for s in ax.spines.values():
        s.set_color('#808080'); s.set_linewidth(1.1)
    ax.set_zorder(2)
    for poly in LAND:
        ax.add_patch(Polygon(poly, closed=True, fc='#bfbfbf', ec='#a8a8a8', lw=0.3, zorder=1))
    ax.add_patch(Polygon(IJSSELMEER, closed=True, fc='#7d7d7d', ec='#707070', lw=0.3, zorder=1.1))
    for b in BORDERS:
        ax.plot(*zip(*b), color='#858585', lw=0.55, zorder=1.2)
    for lon in LON_TICKS:
        ax.axvline(lon, color='#3fc6f5', lw=1.05, ls=(0, (1, 1.3)), zorder=2)
    for lat in LAT_TICKS:
        ax.axhline(lat, color='#3fc6f5', lw=1.05, ls=(0, (1, 1.3)), zorder=2)
    for lab, x in zip(LON_LABELS, LON_LABEL_POS):
        ax.text(x, 53.2, lab, color='#38c0f5', fontsize=6.2, family='Liberation Sans', ha='center', va='center', zorder=2.1)
    lats = LAT_TICKS + ([40] if show40 else [])
    for lat in lats:
        ax.text(-12.15, lat+0.35, str(lat), color='#38c0f5', fontsize=6.2, family='Liberation Sans', ha='center', va='center', zorder=2.1)
    styles = ['-', (0, (4, 2.5)), (0, (1, 1))]
    for seg, st in zip(refs, styles):
        ax.plot(*zip(*seg), color='black', lw=1.5 if st != styles[2] else 1.2, ls=st, zorder=3, solid_capstyle='butt')
    for name, group in zip(ORDER, trajs):
        for tr in group:
            ax.add_patch(PathPatch(curve(list(tr) + [site]), fc='none', ec=COLORS[name], lw=1.0, zorder=4 + ORDER.index(name)*0.1))
    for name, pts in opened:
        ax.add_patch(PathPatch(curve(pts), fc='none', ec=COLORS[name], lw=1.0, zorder=4 + ORDER.index(name)*0.1))
    for name, x, y in marks:
        ax.plot(x, y, 'o', ms=2.4, mfc=COLORS[name], mec=COLORS[name], mew=0, zorder=4.6)
    ax.plot(*site, 'o', ms=4.4, mfc='black', mec='black', mew=0, zorder=6)
    handles = [Line2D([], [], color=COLORS[n], lw=1.4, alpha=0.75) for n in ORDER]
    prop = {'family': 'Liberation Sans', 'size': 4.2}
    leg = ax.legend(handles, dates, ncol=5, loc='lower center', bbox_to_anchor=(0.5, 1 + 3.2/195), borderaxespad=0,
                    prop=prop, frameon=True, fancybox=False, edgecolor='#dcdcdc', framealpha=1, handlelength=3.55,
                    handletextpad=1.43, columnspacing=4.06, borderpad=0.25, labelcolor='#222222')
    leg.get_frame().set_linewidth(0.5)
    return ax

panel(40, 235, MUNICH, A_dates, A_ref, [A_navy, A_blue, A_green, A_orange, A_red], A_open, A_marks, False)
panel(264.3, 459.3, ERLANGEN, B_dates, B_ref, [B_navy, B_blue, B_green, B_orange, B_red], B_open, B_marks, True)
panel(489.3, 684.3, MUNICH, C_dates, C_ref, [C_navy, C_blue, C_green, C_orange, C_red], C_open, C_marks, True)
panel(714, 909, MUNICH, D_dates, D_ref, [D_navy, D_blue, D_green, D_orange, D_red], D_open, D_marks, False)
panel(938.5, 1133.5, ERLANGEN, E_dates, E_ref, [E_navy, E_blue, E_green, E_orange, E_red], E_open, E_marks, True)

fig.savefig('out.png', dpi=100, facecolor='white')
